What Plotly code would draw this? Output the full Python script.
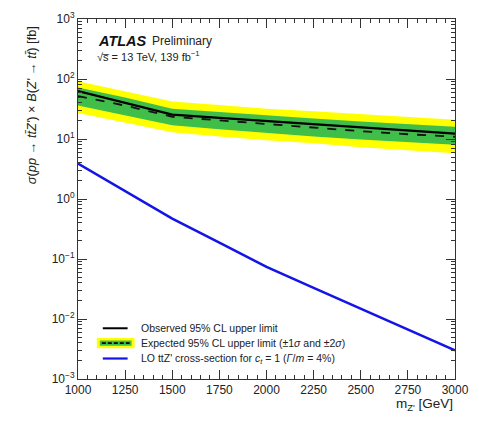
import plotly.graph_objects as go

mass = [1000, 1250, 1500, 1750, 2000, 2250, 2500, 2750, 3000]
observed = [63, 40, 25.5, 22.5, 20, 18, 16, 14, 12.3]
expected = [52, 36, 23.5, 20.5, 17.5, 15.5, 13.5, 12, 10.9]
exp_p1 = [72, 49, 32, 28, 24.5, 22, 19.5, 17.5, 16]
exp_m1 = [36, 25, 17, 14.5, 12.5, 11, 9.8, 8.8, 8.0]
exp_p2 = [92, 62, 42, 37, 32, 29, 26, 23, 21]
exp_m2 = [27, 18.5, 13, 11, 9.5, 8.5, 7.3, 6.5, 5.8]
theory = [3.9, 1.34, 0.47, 0.188, 0.074, 0.033, 0.0148, 0.00665, 0.0030]

ytickvals = [1e-3, 1e-2, 1e-1, 1, 10, 100, 1000]
yticktext = ["10<sup>−3</sup>", "10<sup>−2</sup>", "10<sup>−1</sup>", "10<sup>0</sup>",
             "10<sup>1</sup>", "10<sup>2</sup>", "10<sup>3</sup>"]
xtickvals = [1000, 1250, 1500, 1750, 2000, 2250, 2500, 2750, 3000]

YELLOW = "#ffff00"
GREEN = "#3fbf4a"
BLUE = "#1414e6"
FONT = "Liberation Sans, Arial, sans-serif"

fig = go.Figure()
fig.add_trace(go.Scatter(x=mass, y=exp_m2, mode="lines", line=dict(width=0), showlegend=False, hoverinfo="skip"))
fig.add_trace(go.Scatter(x=mass, y=exp_p2, mode="lines", line=dict(width=0), fill="tonexty",
                         fillcolor=YELLOW, showlegend=False, hoverinfo="skip"))
fig.add_trace(go.Scatter(x=mass, y=exp_m1, mode="lines", line=dict(width=0), showlegend=False, hoverinfo="skip"))
fig.add_trace(go.Scatter(x=mass, y=exp_p1, mode="lines", line=dict(width=0), fill="tonexty",
                         fillcolor=GREEN, showlegend=False, hoverinfo="skip"))
fig.add_trace(go.Scatter(x=mass, y=expected, mode="lines", line=dict(color="#111", width=1.8, dash="dash"),
                         showlegend=False))
fig.add_trace(go.Scatter(x=mass, y=observed, mode="lines", line=dict(color="#000", width=2.2),
                         showlegend=False))
fig.add_trace(go.Scatter(x=mass, y=theory, mode="lines", line=dict(color=BLUE, width=2.5),
                         showlegend=False))

L, R, T, B = 78, 458, 10, 379   # target plot area in window pixels
W, H = 479, 422


def px(x):
    return (x - L) / (R - L)


def py(y):
    return (B - y) / (B - T)


shapes = []
shapes.append(dict(type="line", xref="paper", yref="paper", x0=px(103), x1=px(128), y0=py(327), y1=py(327),
                   line=dict(color="black", width=2)))
shapes.append(dict(type="rect", xref="paper", yref="paper", x0=px(97), x1=px(135), y0=py(347.5), y1=py(337),
                   fillcolor=YELLOW, line=dict(width=0)))
shapes.append(dict(type="rect", xref="paper", yref="paper", x0=px(100), x1=px(132), y0=py(345), y1=py(339.5),
                   fillcolor=GREEN, line=dict(width=0)))
shapes.append(dict(type="line", xref="paper", yref="paper", x0=px(102), x1=px(130), y0=py(342.3), y1=py(342.3),
                   line=dict(color="black", width=1.8, dash="4px,2px")))
shapes.append(dict(type="line", xref="paper", yref="paper", x0=px(103), x1=px(128), y0=py(358), y1=py(358),
                   line=dict(color=BLUE, width=2.2)))

ann = []
leg_font = dict(family=FONT, size=10.5, color="#222")
ann.append(dict(text="Observed 95% CL upper limit", x=px(139), y=py(327), xref="paper", yref="paper",
                xanchor="left", yanchor="middle", showarrow=False, font=leg_font))
ann.append(dict(text="Expected 95% CL upper limit (±1<i>σ</i> and ±2<i>σ</i>)", x=px(139), y=py(342.5),
                xref="paper", yref="paper", xanchor="left", yanchor="middle", showarrow=False, font=leg_font))
ann.append(dict(text="LO ttZ' cross-section for <i>c<sub>t</sub></i> = 1 (<i>Γ</i>/<i>m</i> = 4%)", x=px(139),
                y=py(358.5), xref="paper", yref="paper", xanchor="left", yanchor="middle", showarrow=False,
                font=leg_font))
ann.append(dict(text="<b><i>ATLAS</i></b>", x=px(96), y=py(33), xref="paper", yref="paper",
                xanchor="left", yanchor="middle", showarrow=False,
                font=dict(family=FONT, size=14.5, color="#111")))
ann.append(dict(text="Preliminary", x=px(151), y=py(33), xref="paper", yref="paper",
                xanchor="left", yanchor="middle", showarrow=False,
                font=dict(family=FONT, size=12, color="#222")))
ann.append(dict(text="√s\u0305 = 13 TeV, 139 fb<sup>−1</sup>",
                x=px(95), y=py(47.5), xref="paper", yref="paper",
                xanchor="left", yanchor="middle", showarrow=False,
                font=dict(family=FONT, size=11, color="#222")))
ann.append(dict(text="m<sub>Z'</sub> [GeV]", x=1.0, y=py(405), xref="paper", yref="paper",
                xanchor="right", yanchor="middle", showarrow=False,
                font=dict(family=FONT, size=13.5, color="#222")))
ann.append(dict(text="<i>σ</i>(<i>pp</i> → <i>tt̄Z'</i>) × <i>B</i>(<i>Z'</i> → <i>tt̄</i>) [fb]",
                x=px(31), y=py(98), xref="paper", yref="paper", textangle=-90,
                xanchor="center", yanchor="middle", showarrow=False,
                font=dict(family=FONT, size=12.8, color="#222")))

fig.update_layout(
    width=W, height=H,
    margin=dict(l=L, r=W - R, t=T, b=H - B, pad=0),
    paper_bgcolor="white", plot_bgcolor="white",
    shapes=shapes, annotations=ann, showlegend=False,
    font=dict(family=FONT, color="#222"),
)
fig.update_xaxes(range=[1000, 3000], tickvals=xtickvals, ticks="inside", ticklen=9, tickcolor="#333",
                 showline=True, linecolor="#333", linewidth=1, mirror="ticks", showgrid=False, zeroline=False,
                 tickfont=dict(family=FONT, size=12, color="#222"),
                 minor=dict(ticks="inside", ticklen=4, dtick=50, tickcolor="#333", showgrid=False))
fig.update_yaxes(type="log", range=[-3, 3], tickvals=ytickvals, ticktext=yticktext, ticks="inside", ticklen=9,
                 tickcolor="#333", showline=True, linecolor="#333", linewidth=1, mirror="ticks", showgrid=False,
                 zeroline=False, tickfont=dict(family=FONT, size=12, color="#222"),
                 minor=dict(ticks="inside", ticklen=4, dtick="D1", tickcolor="#333", showgrid=False))

fig.write_html("out.html", config={"displayModeBar": False},
               post_script="document.body.style.margin='0';document.body.style.overflow='hidden';")
